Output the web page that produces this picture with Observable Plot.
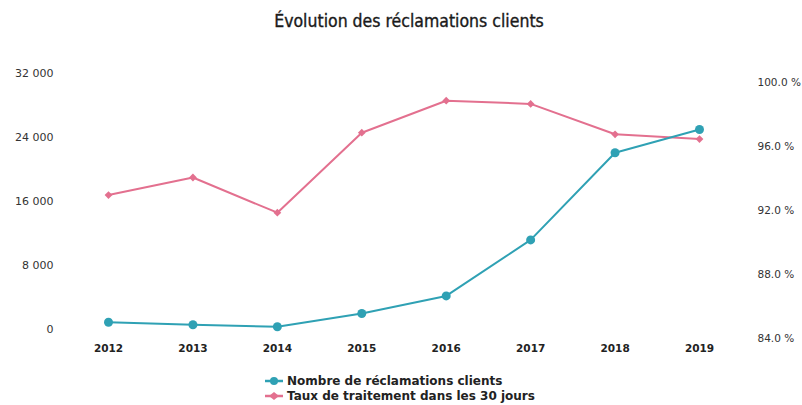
<!DOCTYPE html>
<html>
<head>
<meta charset="utf-8">
<script src="https://cdn.jsdelivr.net/npm/d3@7"></script>
<script src="https://cdn.jsdelivr.net/npm/@observablehq/plot@0.6"></script>
<style>
  html, body { margin: 0; padding: 0; background: #fff; }
  body { width: 802px; height: 405px; overflow: hidden; font-family: "DejaVu Sans", sans-serif; }
  #title { height: 40px; line-height: 42px; text-align: center; font-family: "DejaVu Sans Condensed", "DejaVu Sans", sans-serif; font-size: 17.5px; color: #1a1a1a; -webkit-text-stroke: 0.35px #1a1a1a; padding-left: 16px; }
  #chart svg { display: block; }
  #legend { position: absolute; left: 265px; top: 373px; font-size: 12px; font-weight: bold; color: #222; }
  .item { display: flex; align-items: center; height: 15px; }
  .item svg { margin-right: 4px; }
</style>
</head>
<body>
<div id="title">Évolution des réclamations clients</div>
<div id="chart"></div>
<div id="legend"></div>
<script>
const years = [2012, 2013, 2014, 2015, 2016, 2017, 2018, 2019];
const reclamations = [900, 600, 350, 2000, 4200, 11200, 22100, 25000];
const tauxTraitement = [93.0, 94.1, 91.9, 96.9, 98.9, 98.7, 96.8, 96.5];
const leftTicks = [0, 8000, 16000, 24000, 32000];
const rightTicks = [84, 88, 92, 96, 100];
const seriesNames = ["Nombre de réclamations clients", "Taux de traitement dans les 30 jours"];
const colors = ["#2fa1b4", "#e3708f"];

// map the percent axis onto the left scale
const pctToLeft = p => -1200 + (p - 84) * 2000;

const recData = years.map((y, i) => ({year: y, value: reclamations[i]}));
const tauxData = years.map((y, i) => ({year: y, value: pctToLeft(tauxTraitement[i])}));

const fmtThousands = d => d === 0 ? "0" : d3.format(",")(d).replace(/,/g, " ");

const chart = Plot.plot({
  width: 802,
  height: 325,
  marginLeft: 108,
  marginRight: 103,
  marginTop: 33,
  marginBottom: 36,
  style: {fontFamily: "DejaVu Sans, sans-serif", background: "#fff"},
  x: {domain: [2012, 2019], axis: null},
  y: {domain: [0, 32000], axis: null},
  marks: [
    Plot.axisX({ticks: years, tickFormat: d => String(d), tickSize: 0, tickPadding: 15, fontSize: 10.5, fontWeight: "bold", fill: "#222", label: null}),
    Plot.axisY({anchor: "left", ticks: leftTicks, tickFormat: fmtThousands, tickSize: 0, tickPadding: 55, fontSize: 11, fill: "#333", label: null}),
    Plot.axisY({anchor: "right", ticks: rightTicks.map(pctToLeft), tickFormat: (d, i) => rightTicks[i].toFixed(1) + " %", tickSize: 0, tickPadding: 58, fontSize: 10.5, fill: "#333", label: null}),
    Plot.line(tauxData, {x: "year", y: "value", stroke: colors[1], strokeWidth: 2}),
    Plot.dot(tauxData, {x: "year", y: "value", fill: colors[1], symbol: "diamond2", r: 3.5}),
    Plot.line(recData, {x: "year", y: "value", stroke: colors[0], strokeWidth: 2}),
    Plot.dot(recData, {x: "year", y: "value", fill: colors[0], r: 4.5})
  ]
});
document.getElementById("chart").appendChild(chart);

const legend = document.getElementById("legend");
seriesNames.forEach((name, i) => {
  const item = document.createElement("div");
  item.className = "item";
  const marker = i === 0
    ? `<circle cx="9" cy="6" r="4" fill="${colors[i]}"/>`
    : `<path d="M9,2 L14,6 L9,10 L4,6 Z" fill="${colors[i]}"/>`;
  item.innerHTML = `<svg width="18" height="12"><line x1="0" x2="18" y1="6" y2="6" stroke="${colors[i]}" stroke-width="2.5"/>${marker}</svg><span>${name}</span>`;
  legend.appendChild(item);
});
</script>
</body>
</html>
